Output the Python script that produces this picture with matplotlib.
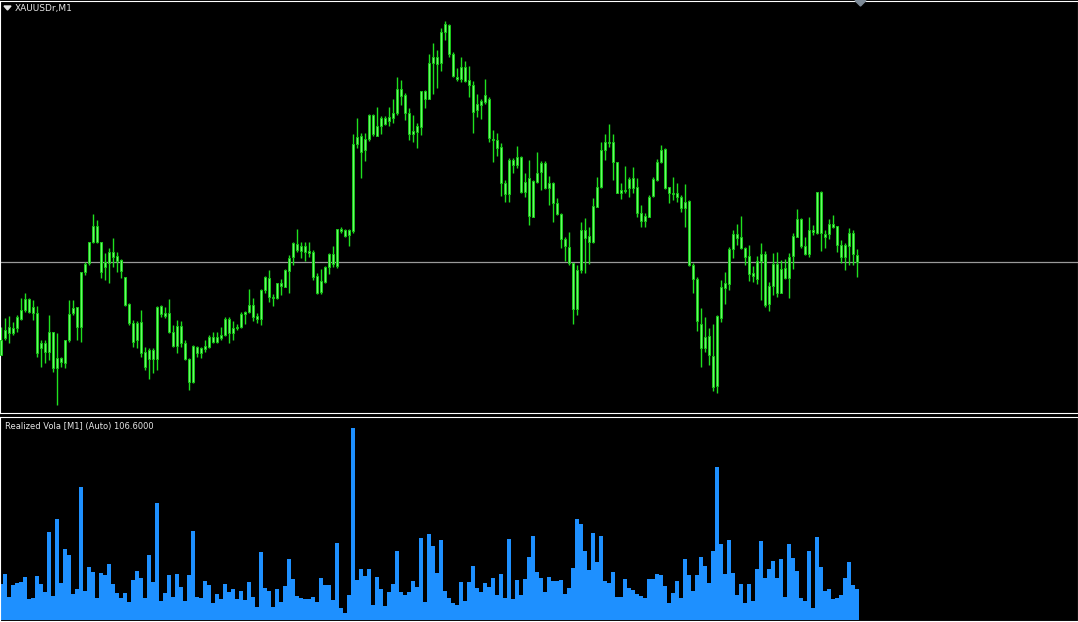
import numpy as np
import matplotlib
matplotlib.use("Agg")
import matplotlib.pyplot as plt
from matplotlib.patches import Polygon

# XAUUSDr M1 candles (price in chart units)
opens = [65, 82, 87, 92, 92, 101, 110, 121, 107, 107, 72, 77, 68, 88, 52, 62, 57, 80, 107, 113,
         93, 148, 157, 178, 194, 178, 153, 157, 168, 164, 160, 143, 116, 97, 80, 98, 68, 61, 70, 61,
         114, 107, 107, 88, 74, 94, 77, 61, 38, 73, 67, 71, 73, 83, 78,
         82, 85, 101, 87, 92, 93, 106, 108, 115, 104, 101, 130, 142, 123, 122, 137, 133, 149, 163, 176,
         169, 174, 169, 168, 144, 128, 138, 153, 166, 154, 191, 190, 185,
         189, 276, 284, 270, 281, 305, 284, 294, 302, 299, 302, 307, 331, 325, 307, 286, 288, 293, 329, 321,
         357, 363, 357, 388, 395, 366, 343, 341, 353, 340, 335, 310, 315, 318, 321, 281, 280,
         273, 237, 226, 260, 255, 263, 228, 242, 203, 238, 248, 257, 232, 237, 217, 206, 181, 173, 157, 111,
         150, 190, 184, 178, 213, 233, 270, 278, 278, 258, 227, 230, 232, 242, 233, 207, 199, 203, 224, 240,
         258, 271, 233, 227, 227, 223, 212, 219, 155, 141,
         96, 72, 84, 64, 34, 102, 132, 136, 171, 186, 183, 172, 164, 147, 141, 159, 166, 116, 134, 156,
         127, 152, 142, 164, 183, 201, 174, 166, 190, 187, 228, 186, 186, 196, 194, 175, 163, 174, 187, 165]
closes = [80, 90, 93, 87, 103, 110, 121, 108, 113, 67, 77, 68, 88, 52, 62, 58, 80, 106, 112, 93,
          148, 156, 178, 194, 178, 148, 158, 168, 163, 159, 149, 115, 97, 78, 97, 67, 53, 70, 61, 113,
          106, 104, 88, 74, 94, 77, 61, 38, 74, 67, 72, 74, 83, 78, 83,
          85, 101, 87, 92, 93, 106, 108, 115, 103, 101, 130, 143, 123, 122, 137, 134, 150, 162, 177, 170,
          174, 168, 167, 143, 127, 139, 153, 166, 156, 191, 189, 184, 190,
          276, 283, 268, 281, 305, 286, 294, 302, 296, 303, 307, 331, 324, 307, 286, 289, 294, 329, 321, 357,
          363, 356, 388, 396, 366, 344, 341, 353, 339, 335, 308, 316, 319, 325, 282, 280, 272,
          237, 226, 260, 255, 263, 228, 238, 204, 239, 247, 257, 232, 237, 217, 206, 181, 174, 157, 111, 150,
          190, 182, 178, 214, 233, 270, 278, 277, 258, 227, 230, 229, 241, 232, 207, 199, 204, 223, 241, 258,
          270, 232, 227, 226, 223, 212, 218, 155, 141, 99,
          72, 83, 65, 33, 104, 133, 137, 171, 186, 182, 172, 163, 146, 144, 159, 166, 115, 134, 156, 127,
          151, 142, 163, 184, 201, 174, 166, 190, 188, 228, 187, 183, 196, 193, 175, 163, 175, 187, 166, 158]
highs = [93, 102, 104, 98, 105, 122, 127, 122, 120, 114, 80, 80, 105, 88, 87, 63, 80, 120, 120, 113,
         148, 158, 178, 206, 200, 178, 167, 172, 182, 168, 161, 143, 117, 100, 99, 110, 73, 72, 72, 114,
         115, 113, 121, 95, 100, 99, 80, 62, 75, 74, 73, 80, 85, 88, 88,
         93, 103, 103, 99, 96, 108, 109, 131, 122, 107, 131, 144, 150, 126, 137, 141, 151, 165, 178, 191,
         178, 178, 178, 170, 147, 151, 154, 167, 174, 191, 193, 191, 191,
         286, 302, 287, 287, 306, 306, 313, 304, 304, 313, 321, 343, 340, 327, 312, 305, 297, 329, 330, 366,
         377, 370, 392, 399, 396, 368, 352, 363, 359, 354, 339, 326, 321, 341, 323, 290, 287,
         277, 240, 262, 262, 274, 264, 247, 260, 240, 268, 259, 259, 244, 238, 222, 207, 183, 188, 157, 155,
         198, 202, 193, 222, 243, 278, 286, 296, 286, 258, 237, 254, 243, 253, 242, 215, 207, 225, 243, 261,
         275, 272, 233, 243, 237, 225, 236, 220, 157, 143,
         112, 103, 92, 96, 105, 140, 148, 173, 190, 196, 204, 173, 175, 154, 164, 177, 169, 138, 167, 168,
         160, 161, 167, 187, 211, 202, 183, 203, 195, 228, 229, 190, 201, 205, 194, 180, 177, 192, 190, 171]
lows = [65, 80, 77, 85, 88, 100, 108, 107, 100, 63, 53, 57, 60, 48, 15, 53, 52, 78, 105, 80,
        78, 145, 155, 177, 177, 142, 140, 137, 153, 148, 142, 114, 95, 73, 72, 63, 50, 41, 47, 50,
        103, 102, 87, 73, 67, 73, 60, 30, 37, 63, 62, 68, 72, 77, 77,
        80, 84, 77, 80, 90, 92, 96, 107, 99, 97, 95, 127, 118, 114, 121, 125, 133, 127, 155, 168,
        162, 159, 163, 140, 126, 126, 137, 146, 153, 152, 187, 183, 174,
        187, 272, 242, 259, 279, 284, 284, 286, 295, 294, 297, 305, 315, 300, 280, 278, 272, 285, 312, 321,
        326, 332, 349, 380, 363, 343, 339, 338, 338, 323, 287, 303, 301, 316, 278, 258, 264,
        224, 218, 218, 247, 252, 227, 223, 195, 203, 237, 230, 231, 215, 198, 205, 172, 159, 155, 96, 105,
        147, 147, 156, 177, 213, 232, 260, 273, 240, 227, 221, 227, 223, 227, 203, 193, 193, 203, 223, 239,
        257, 231, 217, 220, 218, 208, 193, 154, 127, 89,
        53, 68, 55, 29, 27, 98, 116, 130, 162, 175, 171, 155, 139, 138, 136, 120, 113, 109, 125, 123,
        127, 141, 122, 151, 183, 172, 165, 163, 185, 186, 169, 172, 181, 192, 168, 157, 150, 155, 155, 143]

# Realized Vola histogram
vola = [36, 46, 23, 35, 37, 38, 43, 21, 22, 44, 36, 28, 88, 24, 101, 37, 71, 65, 26, 31,
        133, 29, 53, 48, 22, 47, 45, 56, 36, 27, 22, 27, 18, 40, 49, 42, 22, 65, 38, 117,
        19, 27, 45, 23, 46, 33, 19, 45, 89, 23, 22, 39, 35, 17, 26,
        21, 36, 28, 31, 21, 29, 20, 38, 23, 13, 68, 32, 29, 13, 31, 18, 34, 61, 41, 24,
        22, 21, 21, 23, 18, 42, 35, 35, 20, 77, 12, 7, 25, 192, 40, 51, 44, 51, 15, 43,
        31, 14, 28, 36, 69, 28, 25, 28, 39, 33, 82, 18, 86, 74, 47,
        80, 29, 22, 17, 15, 38, 19, 38, 54, 32, 28, 37, 33, 42, 25, 46, 22, 81, 21, 40,
        25, 41, 63, 84, 48, 42, 28, 43, 39, 39, 40, 26, 32, 52, 101, 96, 69, 50, 87, 58,
        84, 39, 37, 48, 23, 23, 41, 32, 30, 26, 24, 22, 41, 41, 46,
        45, 34, 17, 27, 39, 22, 61, 45, 29, 45, 63, 54, 37, 69, 153, 76, 46, 80, 47, 25,
        36, 17, 36, 19, 51, 79, 42, 51, 59, 42, 61, 23, 76, 62, 49, 22, 19, 69, 12, 83,
        53, 29, 31, 21, 22, 25, 42, 58, 35, 31]

symbol_label = "XAUUSDr,M1"
vola_label = "Realized Vola [M1] (Auto) 106.6000"

W, H = 1078, 622
fig = plt.figure(figsize=(W / 100, H / 100), dpi=100, facecolor="black")

ax1 = fig.add_axes([0, (H - 413) / H, 1, 412 / H], facecolor="black")
ax2 = fig.add_axes([0, 1 / H, 1, 204 / H], facecolor="black")

o = np.array(opens, float)
c = np.array(closes, float)
hi = np.array(highs, float)
lo = np.array(lows, float)
x = np.arange(len(o))

# candles
ax1.vlines(x, lo, hi, color="#1fe01f", lw=1.0, zorder=2)
body_bot = np.minimum(o, c)
body_h = np.maximum(np.abs(c - o), 0.8)
ax1.bar(x, body_h, bottom=body_bot, width=0.72, color="#6cf76c",
        edgecolor="#18c818", linewidth=0.7, zorder=3)
ax1.axhline(c[-1], color="#9a9a9a", lw=0.9, zorder=1)
ax1.set_xlim(-0.25, 269.25)
ax1.set_ylim(7, 419)

# vola histogram
xv = np.arange(len(vola))
ax2.bar(xv, vola, width=1.0, color="#1e90ff", linewidth=0)
ax2.set_xlim(-0.25, 269.25)
ax2.set_ylim(-1, 203)

for ax in (ax1, ax2):
    ax.set_xticks([])
    ax.set_yticks([])
    for s in ax.spines.values():
        s.set_color("white")
        s.set_linewidth(0.8)

fig.text(15 / W, 1 - 8 / H, symbol_label, color="#e6e6e6", fontsize=6.5, va="center", ha="left")
fig.text(5 / W, 1 - 426 / H, vola_label, color="#e6e6e6", fontsize=6, va="center", ha="left")

# small markers: symbol dropdown triangle and chart shift triangle
fig.patches.append(Polygon([(4 / W, 1 - 6 / H), (11 / W, 1 - 6 / H), (7.5 / W, 1 - 10 / H)],
                           closed=True, color="#e6e6e6", transform=fig.transFigure, figure=fig))
fig.patches.append(Polygon([(855 / W, 1 - 0.5 / H), (866 / W, 1 - 0.5 / H), (860.5 / W, 1 - 6 / H)],
                           closed=True, color="#7d8a97", transform=fig.transFigure, figure=fig))

fig.savefig("out.png", dpi=100, facecolor="black")
